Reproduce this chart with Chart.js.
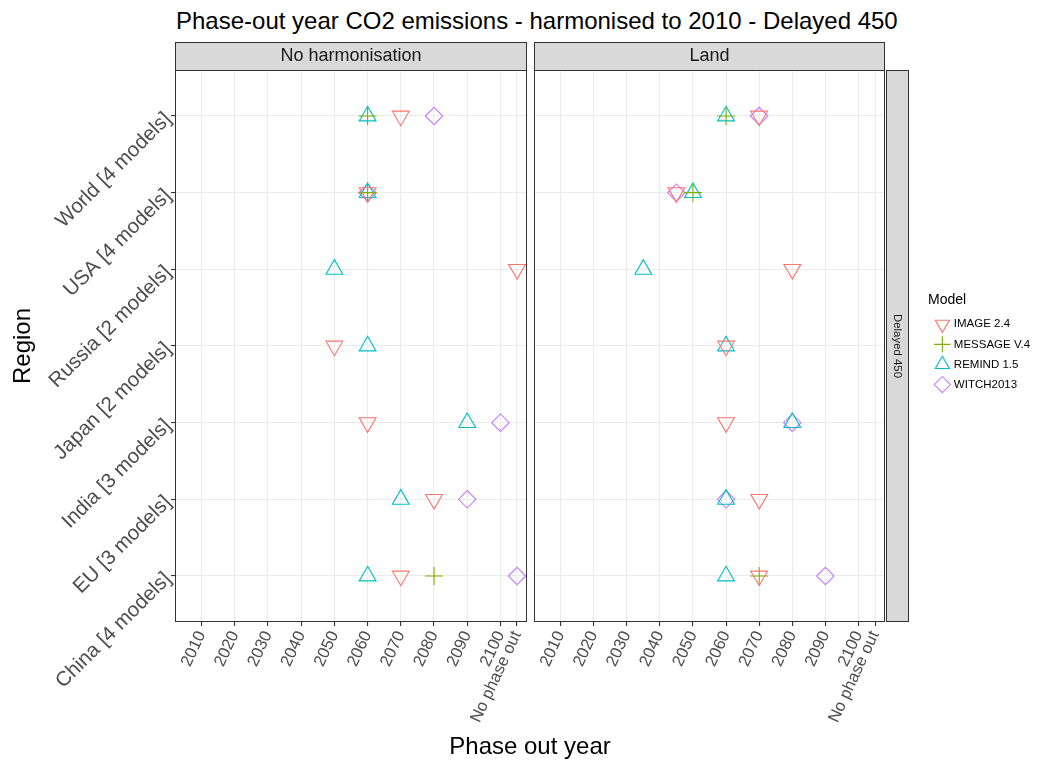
<!DOCTYPE html>
<html>
<head>
<meta charset="utf-8">
<title>Phase-out year CO2 emissions</title>
<script src="https://cdn.jsdelivr.net/npm/chart.js@4.4.1/dist/chart.umd.min.js"></script>
<style>
  html, body { margin: 0; padding: 0; background: #fff; }
  body { position: relative; width: 1040px; height: 760px; overflow: hidden; font-family: 'Liberation Sans', Arial, sans-serif; }
  canvas { position: absolute; top: 0; }
  #leftPanel { left: 0; }
  #rightPanel { left: 530px; }
  .plot-title { position: absolute; left: 176px; top: 9px; font-size: 24px; line-height: 24px; color: #000; white-space: nowrap; }
  .x-title { position: absolute; left: 330px; width: 400px; top: 734px; text-align: center; font-size: 24px; line-height: 24px; color: #000; }
</style>
</head>
<body>
<div class="plot-title">Phase-out year CO2 emissions - harmonised to 2010 - Delayed 450</div>
<canvas id="leftPanel" width="530" height="760"></canvas>
<canvas id="rightPanel" width="510" height="760"></canvas>
<div class="x-title">Phase out year</div>
<script>
const regions = ['World [4 models]', 'USA [4 models]', 'Russia [2 models]', 'Japan [2 models]', 'India [3 models]', 'EU [3 models]', 'China [4 models]'];
const models = ['IMAGE 2.4', 'MESSAGE V.4', 'REMIND 1.5', 'WITCH2013'];

const NO_PHASE_OUT = 2105;
const xTicks = [2010, 2020, 2030, 2040, 2050, 2060, 2070, 2080, 2090, 2100, NO_PHASE_OUT];
const xTickLabels = ['2010', '2020', '2030', '2040', '2050', '2060', '2070', '2080', '2090', '2100', 'No phase out'];

// phase-out year per region (same order as regions), null = model has no result
const noHarmImage = [2070, 2060, NO_PHASE_OUT, 2050, 2060, 2080, 2070];
const noHarmMessage = [2060, 2060, null, null, null, null, 2080];
const noHarmRemind = [2060, 2060, 2050, 2060, 2090, 2070, 2060];
const noHarmWitch = [2080, 2060, null, null, 2100, 2090, NO_PHASE_OUT];

const landImage = [2070, 2045, 2080, 2060, 2060, 2070, 2070];
const landMessage = [2060, 2050, null, null, null, null, 2070];
const landRemind = [2060, 2050, 2035, 2060, 2080, 2060, 2060];
const landWitch = [2070, 2045, null, null, 2080, 2060, 2090];

const colors = ['#F8766D', '#7CAE00', '#00BFC4', '#C77CFF'];
const shapes = ['triangle', 'cross', 'triangle', 'rectRot'];
const rotations = [180, 0, 0, 0];
const radii = [9.7, 9, 9.7, 8.7];

Chart.defaults.font.family = "'Liberation Sans', Arial, sans-serif";

function points(years) {
  return years.map((year, i) => (year === null ? null : { x: year, y: i })).filter(Boolean);
}

function datasets(series) {
  return series.map((years, i) => ({
    label: models[i],
    data: points(years),
    borderColor: colors[i],
    backgroundColor: 'rgba(0,0,0,0)',
    pointStyle: shapes[i],
    pointRotation: rotations[i],
    pointRadius: radii[i],
    borderWidth: 1.1
  }));
}

// grey facet strips behind the strip texts, panel border on top
const facetPlugin = {
  id: 'facet',
  beforeDraw(chart) {
    const ctx = chart.ctx;
    const t = chart.titleBlock;
    ctx.save();
    ctx.fillStyle = '#D9D9D9';
    ctx.strokeStyle = '#333333';
    ctx.lineWidth = 1;
    ctx.fillRect(t.left, t.top, t.width, t.height);
    ctx.strokeRect(t.left + 0.5, t.top + 0.5, t.width - 1, t.height);
    const s = chart.scales.facet;
    if (s) {
      const a = chart.chartArea;
      ctx.fillRect(s.left + 1, a.top, 22, a.bottom - a.top);
      ctx.strokeRect(s.left + 1.5, a.top + 0.5, 22, a.bottom - a.top - 1);
    }
    ctx.restore();
  },
  afterDraw(chart) {
    const a = chart.chartArea;
    const ctx = chart.ctx;
    ctx.save();
    ctx.strokeStyle = '#333333';
    ctx.lineWidth = 1;
    ctx.strokeRect(a.left + 0.5, a.top + 0.5, a.right - a.left - 1, a.bottom - a.top - 1);
    ctx.restore();
  }
};

function xScale() {
  return {
    type: 'linear',
    min: 2002,
    max: 2108,
    bounds: 'data',
    afterBuildTicks: (scale) => { scale.ticks = xTicks.map((value) => ({ value })); },
    afterFit: (scale) => { scale.height = 138; scale.paddingLeft = 0; scale.paddingRight = 0; },
    grid: { color: '#EBEBEB', lineWidth: 1.1, tickColor: '#333333', tickLength: 4 },
    border: { display: false },
    ticks: {
      autoSkip: false,
      minRotation: 65,
      maxRotation: 65,
      padding: 2,
      color: '#4D4D4D',
      font: { size: 16.6 },
      callback: (value, index) => xTickLabels[index]
    }
  };
}

function yScale(showLabels) {
  return {
    type: 'linear',
    min: -0.6,
    max: 6.6,
    reverse: true,
    bounds: 'data',
    afterBuildTicks: (scale) => { scale.ticks = regions.map((r, i) => ({ value: i })); },
    afterFit: (scale) => { scale.width = showLabels ? 175 : 0; scale.paddingTop = 0; scale.paddingBottom = 0; },
    grid: { color: '#EBEBEB', lineWidth: 1.1, tickColor: '#333333', tickLength: 4, drawTicks: showLabels },
    border: { display: false },
    title: { display: showLabels, text: 'Region', color: '#000', font: { size: 24 }, padding: { top: 9, bottom: 0 } },
    ticks: {
      display: showLabels,
      minRotation: 45,
      maxRotation: 45,
      padding: 3,
      color: '#4D4D4D',
      font: { size: 20.5 },
      callback: (value) => regions[value]
    }
  };
}

function panel(id, stripText, series, first) {
  const scales = { x: xScale(), y: yScale(first) };
  if (!first) {
    scales.facet = {
      axis: 'y',
      type: 'linear',
      position: 'right',
      afterFit: (scale) => { scale.width = 43; scale.paddingTop = 0; scale.paddingBottom = 0; },
      grid: { display: false },
      border: { display: false },
      ticks: { display: false },
      title: { display: true, text: 'Delayed 450', color: '#1A1A1A', font: { size: 11.4 }, padding: { top: 24.2, bottom: 0 } }
    };
  }
  return new Chart(document.getElementById(id), {
    type: 'scatter',
    data: { datasets: datasets(series) },
    options: {
      responsive: false,
      animation: false,
      events: [],
      layout: {
        autoPadding: false,
        padding: first ? { top: 42, left: 0, right: 3, bottom: 0 } : { top: 42, left: 4, right: 2, bottom: 0 }
      },
      scales,
      plugins: {
        tooltip: { enabled: false },
        title: {
          display: true,
          text: stripText,
          fullSize: false,
          color: '#1A1A1A',
          font: { size: 18, weight: 'normal' },
          padding: { top: 3.2, bottom: 3.2 }
        },
        legend: {
          display: !first,
          position: 'right',
          fullSize: false,
          maxWidth: 110,
          title: { display: true, text: 'Model', color: '#000', font: { size: 14 }, position: 'start' },
          labels: { usePointStyle: true, color: '#000', font: { size: 11.5 }, padding: 8.6 }
        }
      }
    },
    plugins: [facetPlugin]
  });
}

panel('leftPanel', 'No harmonisation', [noHarmImage, noHarmMessage, noHarmRemind, noHarmWitch], true);
panel('rightPanel', 'Land', [landImage, landMessage, landRemind, landWitch], false);
</script>
</body>
</html>
